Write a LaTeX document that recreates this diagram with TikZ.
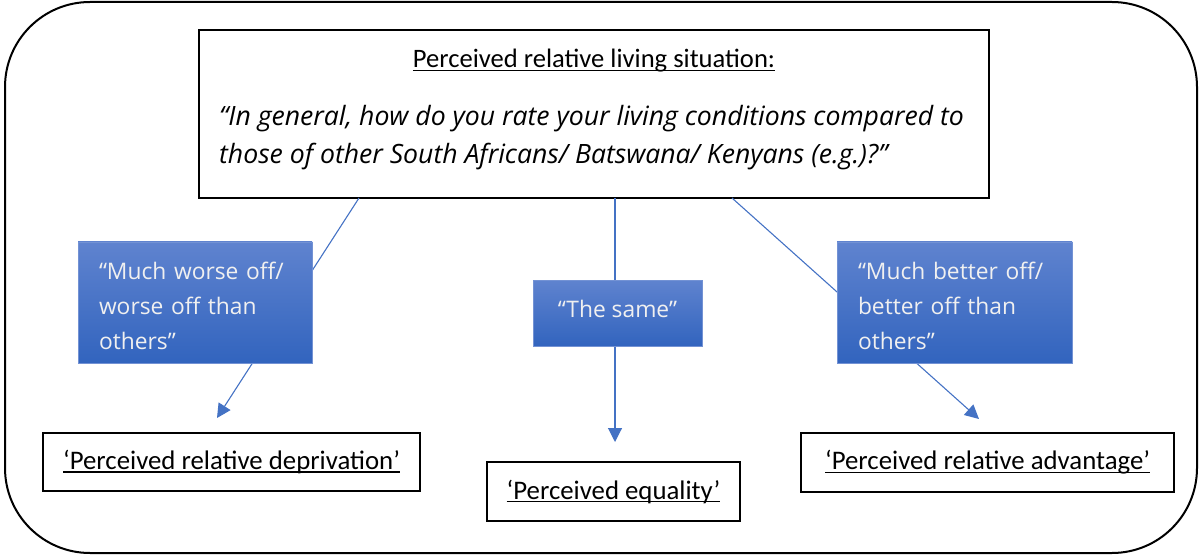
\documentclass[tikz,border=0pt]{standalone}
\usepackage{fontspec}
\setmainfont{Carlito}
\newfontfamily\qfont{Open Sans}
\usetikzlibrary{arrows.meta}
\definecolor{lineblue}{HTML}{4472C4}
\definecolor{bluetop}{HTML}{5F83CF}
\definecolor{bluebot}{HTML}{3264BE}
\definecolor{blueedge}{HTML}{7392D4}
\newcommand\myul[1]{\setbox0\hbox{#1}\rlap{\rule[-0.13em]{\wd0}{0.06em}}\box0}
\tikzset{
  blackbox/.style={draw=black, line width=1.6pt, rectangle, inner sep=0pt},
  bluebox/.style={rectangle, draw=blueedge, line width=0.8pt, top color=bluetop, bottom color=bluebot, inner sep=0pt},
  bluetext/.style={text=white!94!black, font=\qfont\fontsize{22.8}{35}\selectfont, inner sep=0pt},
  conn/.style={draw=lineblue, line width=1.1pt},
  arr/.style={conn, -{Triangle[length=14pt,width=14pt]}},
  labeltext/.style={font=\fontsize{26.8}{30}\selectfont},
}
\begin{document}
\begin{tikzpicture}[x=1pt,y=-1pt]
\useasboundingbox (0,0) rectangle (1202,556);
\draw[line width=2pt, rounded corners=85pt] (5,2) rectangle (1197,553);
% top box
\node[blackbox, minimum width=790pt, minimum height=168pt] (top) at (594,114) {};
\node[font=\fontsize{26.6}{30}\selectfont] (title) at (594,61) {\myul{Perceived relative living situation:}};
\node[anchor=west, align=left, inner sep=0pt, font=\qfont\itshape\fontsize{26.6}{38}\selectfont] (question) at (219,138)
 {“In general, how do you rate your living conditions compared to\\those of other South Africans/ Batswana/ Kenyans (e.g.)?”};
% bottom boxes
\node[blackbox, minimum width=377pt, minimum height=58pt, labeltext] (dep) at (231.5,462) {\myul{‘Perceived relative deprivation’}};
\node[blackbox, minimum width=253pt, minimum height=59pt, labeltext] (eq) at (613.5,491.5) {\myul{‘Perceived equality’}};
\node[blackbox, minimum width=373pt, minimum height=59pt, labeltext] (adv) at (987.5,462.5) {\myul{‘Perceived relative advantage’}};
% connector coordinates
\coordinate (s1) at (359,198);
\coordinate (t1) at (217,418);
\coordinate (s2) at (615,198);
\coordinate (t2) at (615,442);
\coordinate (s3) at (732,198);
\coordinate (t3) at (979,419);
\draw[arr] (s1) -- (t1);
\draw[arr] (s2) -- (t2);
\draw[arr] (s3) -- (t3);
% blue boxes
\node[bluebox, minimum width=234pt, minimum height=121pt] (worse) at (195,302.5) {};
\node[bluetext, text width=192pt, align=left] (worsetext) at (195,305.5) {“Much worse off/\\worse off than\\others”};
\node[bluebox, minimum width=169pt, minimum height=66pt] (same) at (617.5,313) {};
\node[bluetext] (sametext) at (617.5,309) {“The same”};
\node[bluebox, minimum width=235pt, minimum height=121pt] (better) at (954.5,302.5) {};
\node[bluetext, text width=193pt, align=left] (bettertext) at (954.5,305.5) {“Much better off/\\better off than\\others”};
\end{tikzpicture}
\end{document}
